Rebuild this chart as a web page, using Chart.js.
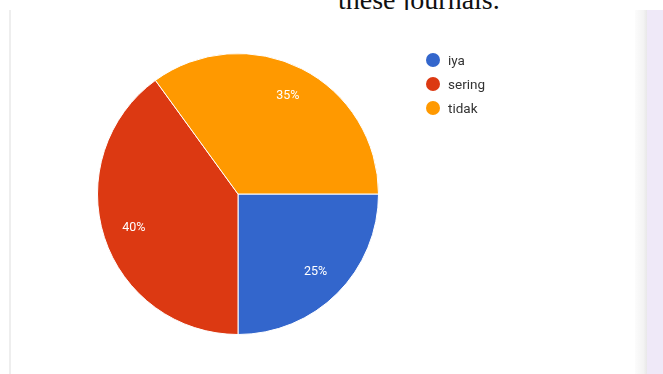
<!DOCTYPE html>
<html>
<head>
<meta charset="utf-8">
<script src="https://cdn.jsdelivr.net/npm/chart.js@4"></script>
<style>
  html, body { margin: 0; padding: 0; background: #fff; }
  body { width: 663px; height: 374px; position: relative; overflow: hidden; font-family: Roboto, Arial, sans-serif; }
  #title { position: absolute; left: 338px; top: -16px; font: 28px/32px "Liberation Serif", "Times New Roman", serif; color: #111; white-space: nowrap; }
  #card { position: absolute; left: 9px; top: 10px; width: 626px; height: 364px; background: #fff; border-left: 2px solid #eeeeee; }
  #edge { position: absolute; left: 635px; top: 10px; width: 12px; height: 364px; background: linear-gradient(to right, #fcfcfc, #f3f3f3 70%, #e8e8e8); }
  #side { position: absolute; left: 647px; top: 10px; width: 16px; height: 364px; background: #efe9f8; }
  #wrap { position: absolute; left: 0; top: 0; width: 663px; height: 374px; }
  #legend { position: absolute; left: 426px; top: 52px; font-size: 13.5px; color: #333; }
  #legend div { height: 24px; display: flex; align-items: flex-start; }
  #legend span.dot { width: 14px; height: 14px; border-radius: 50%; display: inline-block; margin-right: 8px; margin-top: 1px; }
  #legend span.txt { line-height: 16px; }
</style>
</head>
<body>
<div id="title">these journals.</div>
<div id="card"></div>
<div id="edge"></div>
<div id="side"></div>
<div id="wrap"><canvas id="pie" width="663" height="374"></canvas></div>
<div id="legend"></div>
<script>
const labels = ['iya', 'sering', 'tidak'];
const values = [25, 40, 35];
const colors = ['#3366cc', '#dc3912', '#ff9900'];

// legend built from the same arrays
const legend = document.getElementById('legend');
labels.forEach((l, i) => {
  const row = document.createElement('div');
  row.innerHTML = '<span class="dot" style="background:' + colors[i] + '"></span><span class="txt">' + l + '</span>';
  legend.appendChild(row);
});

const pctLabels = {
  id: 'pctLabels',
  afterDatasetsDraw(chart) {
    const ctx = chart.ctx;
    const meta = chart.getDatasetMeta(0);
    const total = values.reduce((a, b) => a + b, 0);
    ctx.save();
    ctx.fillStyle = '#ffffff';
    ctx.font = '12.5px Roboto, Arial, sans-serif';
    ctx.textAlign = 'center';
    ctx.textBaseline = 'middle';
    meta.data.forEach((arc, i) => {
      const mid = (arc.startAngle + arc.endAngle) / 2;
      const r = arc.outerRadius * 0.78;
      const x = arc.x + Math.cos(mid) * r;
      const y = arc.y + Math.sin(mid) * r;
      ctx.fillText(Math.round(values[i] / total * 100) + '%', x, y);
    });
    ctx.restore();
  }
};

new Chart(document.getElementById('pie'), {
  type: 'pie',
  data: {
    labels: labels,
    datasets: [{
      data: values,
      backgroundColor: colors,
      borderColor: '#ffffff',
      borderWidth: 1
    }]
  },
  options: {
    responsive: false,
    animation: false,
    rotation: 90,
    layout: { padding: { left: 97, right: 284, top: 53, bottom: 39 } },
    plugins: {
      legend: { display: false },
      tooltip: { enabled: false }
    }
  },
  plugins: [pctLabels]
});
</script>
</body>
</html>
